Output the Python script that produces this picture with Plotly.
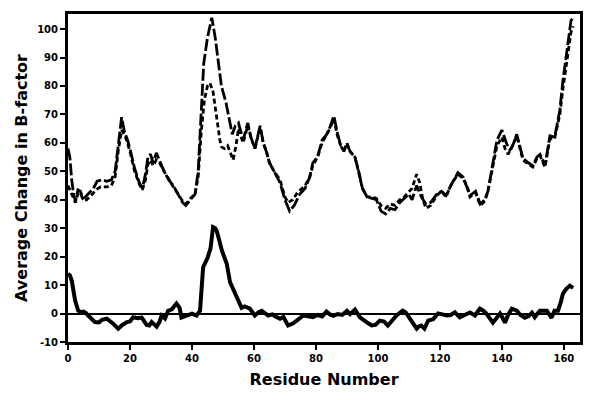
import plotly.graph_objects as go

# Upper curve A (long dashes)
res_a = [0, 0.6, 1.2, 1.8, 2.4, 3.2, 4, 4.8, 5.6, 7, 8.2, 9.4, 11, 12.5, 14, 15.2, 16.2, 17.3, 18.2, 19.2,
         20.2, 21.5, 23, 24, 25, 25.8, 26.6, 27.5, 28.5, 29.5, 31, 32.5, 34, 35.5, 37, 38, 39.5, 41, 42, 43,
         43.8, 45, 46.4, 47.5, 48.5, 49.5, 51, 52, 53, 54, 55, 56.5, 58, 59, 60.3, 62, 63, 64, 65, 66.5,
         68.4, 70, 71.5, 73, 74.8, 76.5, 78, 79, 80.5, 82, 83.5, 84.5, 85.8, 86.8, 88, 89, 90, 91, 92.6, 94,
         95, 96.5, 98, 99.5, 101, 102.5, 104, 105.5, 107, 108.5, 110, 111, 112.5, 114, 115.5, 117, 119, 120.5, 122, 123.5,
         125.8, 127.5, 129, 129.7, 131.5, 133, 134.5, 135.5, 136.8, 138.4, 140, 141.6, 142.6, 143.5, 144.8, 146, 146.8, 148.5, 150, 151.3,
         152.3, 153.9, 155.5, 157, 158, 158.7, 159.7, 160.7, 161.6, 162.3, 163]
val_a = [58, 55, 47, 42, 39.5, 43.5, 43, 40.5, 41, 42.5, 44, 46.5, 47, 46.5, 47, 50, 60, 69, 64, 61,
         57, 51, 46, 44, 49, 55, 56, 53, 56.5, 54, 50, 47, 45, 42, 39, 38, 40, 42, 50, 70,
         88, 97, 104, 97, 88, 80, 74, 69, 63, 66, 67, 61, 67, 62, 58, 66, 60, 57, 53, 50,
         46, 40, 36, 38, 42, 44, 48, 53, 55, 61, 63, 65.5, 69.5, 64, 59, 57, 60, 57, 55, 49,
         44, 41, 40.5, 40, 36, 35, 37, 36.5, 39, 40.5, 42, 40, 45, 41, 38.5, 39, 42, 43, 41.5, 45,
         49.5, 48, 44, 41.5, 43, 38.5, 40, 43, 51, 61, 64.5, 59.5, 57.5, 59, 63, 58, 54.5, 53, 52, 55,
         56, 52, 62.5, 62, 67, 71.5, 82, 90, 97, 103, 104]

# Upper curve B (short dashes)
res_b = [0, 0.8, 1.5, 2.4, 3.2, 4, 4.8, 6, 7.5, 9, 10.5, 12.5, 14, 15.2, 16.2, 17.3, 18.2, 19.2, 20.2, 21.5,
         23, 24, 25, 25.8, 26.6, 27.5, 28.5, 29.5, 31, 32.5, 34, 35.5, 37, 38, 39.5, 41, 42, 43, 44, 45,
         45.8, 46.8, 48, 49, 49.6, 50.5, 51.5, 52.3, 53.3, 54.2, 55, 56.5, 58, 59, 60.3, 62, 63, 64, 65, 66.5,
         68.4, 70, 71, 72.5, 74, 76.5, 78, 79, 80.5, 82, 83.5, 84.5, 85.8, 86.8, 88, 89, 90, 91, 92.6, 94,
         95, 96.5, 98, 99.5, 101, 102.5, 104, 105.5, 107, 108.5, 110, 111, 112.5, 113.5, 114.5, 115.5, 117, 119, 120.5, 122,
         123.5, 125.8, 127.5, 129, 129.7, 131.5, 133, 134.5, 135.5, 136.8, 138.4, 140, 141, 142, 143, 144.8, 146, 146.8, 148.5, 150,
         151.3, 152.3, 153.9, 155.5, 157, 158, 158.7, 159.7, 160.7, 161.6, 162.3, 163]
val_b = [45, 43, 41, 39, 42, 42.5, 40, 40, 41.5, 43.5, 44.5, 44.5, 45, 48, 57, 64.5, 63, 60, 56, 50,
         45.5, 43.5, 47, 52.5, 54, 52, 54, 53, 50, 47, 44.5, 42, 39.5, 38.5, 40.5, 42, 48, 64, 75, 80,
         81, 78, 68, 61, 58.5, 58, 59, 57, 54, 59, 65, 60, 66, 62, 58, 65.5, 60, 57, 53, 50,
         47, 41, 39, 40, 42.5, 45, 48, 52, 55, 60, 63, 65, 68.5, 63, 59, 57.5, 59.5, 57, 55, 49,
         44, 41, 41, 40.5, 38, 37, 38.5, 38, 40, 41, 43, 44, 49, 46, 40, 37, 38, 41.5, 43, 41,
         45, 49, 47.5, 44, 41, 42.5, 38, 39.5, 43, 50.5, 59, 62, 58, 56, 58, 62.5, 57.5, 54, 52.5, 51.5,
         54.5, 55.5, 51.5, 61.5, 61.5, 66, 70, 79, 87, 94, 99, 101]

# Lower curve: difference
res_d = [0, 0.6, 1.2, 1.8, 2.3, 3.3, 4.2, 5, 5.8, 6.5, 7.5, 8.7, 10, 11, 12.5, 13.5, 14.5, 16.2, 17.5, 19,
         20, 21, 22.5, 23.8, 25.4, 26.2, 27, 28.6, 29.5, 30.2, 31.3, 32.3, 33.5, 35, 36, 36.6, 38, 39, 40, 41.5,
         42.6, 43.6, 45, 46, 46.8, 47.5, 48, 49.7, 51.2, 52.3, 53.5, 54.5, 56, 57, 58.7, 60.3, 61.5, 62.5, 63.5, 64.6,
         66, 66.8, 68.4, 69.5, 71, 72.5, 73.8, 75.9, 77.5, 79, 80.5, 82, 83.4, 84.5, 85.6, 87, 88.5, 90, 91, 92.6,
         94.2, 95.5, 97, 98, 99.2, 100.6, 102, 103.2, 104.5, 106, 108, 109, 110, 111, 112.5, 113.3, 114, 115, 116.2, 117.8,
         119.4, 120.8, 122.2, 123.5, 124.8, 126.4, 128, 129.7, 131.3, 132.9, 134, 135, 137.1, 138.3, 139.4, 140.2, 141, 142, 143.2, 144.8,
         146, 147.4, 148.5, 149.7, 150.6, 151.5, 152.3, 154.5, 156, 157, 158.1, 159, 159.7, 160.8, 161.9, 163]
val_d = [14, 13.5, 11.6, 8, 4.6, 1, 0.5, 0.7, 0.2, -0.7, -1.8, -3, -3.1, -2.2, -1.8, -2.5, -3.5, -5.3, -4, -3,
         -2.8, -1.3, -1.6, -1.4, -4, -4.2, -3, -4.6, -3, -0.7, -1.8, 1, 1.5, 3.5, 2, -1.4, -0.7, -0.3, 0, -0.7,
         1, 16.3, 19.5, 23, 30.4, 30, 29, 22, 17.6, 11, 8, 5.5, 2, 2.5, 1.7, -0.7, 0.5, 1, 0.2, -0.7,
         -0.3, -1, -1.8, -1.2, -4.2, -3.5, -2.5, -0.7, -1, -1.3, -0.5, -1, 0.7, -0.3, -0.8, -0.2, -0.5, 1, -0.2, 1.4,
         -1.3, -2.5, -3.5, -4.2, -4, -2.5, -2.8, -4.2, -2.5, -0.7, 1, 0.4, -1.3, -3, -5.3, -4.5, -4.2, -5.3, -2.5, -2,
         0, -0.3, -0.7, -0.5, 0.4, -1.3, -0.6, 0.4, -0.7, 1.7, 1, 0, -3.2, -1.5, 0, -1.5, -3.2, -0.5, 1.7, 1,
         -0.5, -1.5, -1, 0.3, -1.3, 0, 1, 1, -1.5, 1, 1, 4, 7, 8.7, 9.8, 9]

x_ticks = [0, 20, 40, 60, 80, 100, 120, 140, 160]
y_ticks = [-10, 0, 10, 20, 30, 40, 50, 60, 70, 80, 90, 100]

fig = go.Figure()
fig.add_trace(go.Scatter(x=res_b, y=val_b, mode="lines",
                         line=dict(color="black", width=2.8, dash="5px,3px")))
fig.add_trace(go.Scatter(x=res_a, y=val_a, mode="lines",
                         line=dict(color="black", width=2.8, dash="12px,3px")))
fig.add_trace(go.Scatter(x=res_d, y=val_d, mode="lines",
                         line=dict(color="black", width=4)))

fnt = "DejaVu Sans"
fig.update_layout(
    width=600, height=400,
    margin=dict(l=60, r=28, t=6, b=66),
    paper_bgcolor="white", plot_bgcolor="white",
    showlegend=False,
    font=dict(family=fnt, color="black"),
)
fig.update_xaxes(
    range=[0, 165.2], tickvals=x_ticks, ticktext=[str(t) for t in x_ticks],
    automargin=False,
    showgrid=False, zeroline=False,
    showline=True, linecolor="black", linewidth=3, mirror=True,
    ticks="outside", ticklen=5, tickwidth=2, tickcolor="black",
    tickfont=dict(family=fnt, size=10, weight="bold", color="black"),
    title=dict(text="Residue Number", font=dict(family=fnt, size=16, weight="bold", color="black"), standoff=11),
)
fig.update_yaxes(
    range=[-10, 105.3], tickvals=y_ticks, ticktext=[str(t) for t in y_ticks],
    automargin=False,
    showgrid=False, zeroline=True, zerolinecolor="black", zerolinewidth=1.5,
    showline=True, linecolor="black", linewidth=3, mirror=True,
    ticks="outside", ticklen=5, tickwidth=2, tickcolor="black",
    tickfont=dict(family=fnt, size=10, weight="bold", color="black"),
    title=dict(text="Average Change in B-factor", font=dict(family=fnt, size=16, weight="bold", color="black"), standoff=6),
)
fig.write_html("out.html")
